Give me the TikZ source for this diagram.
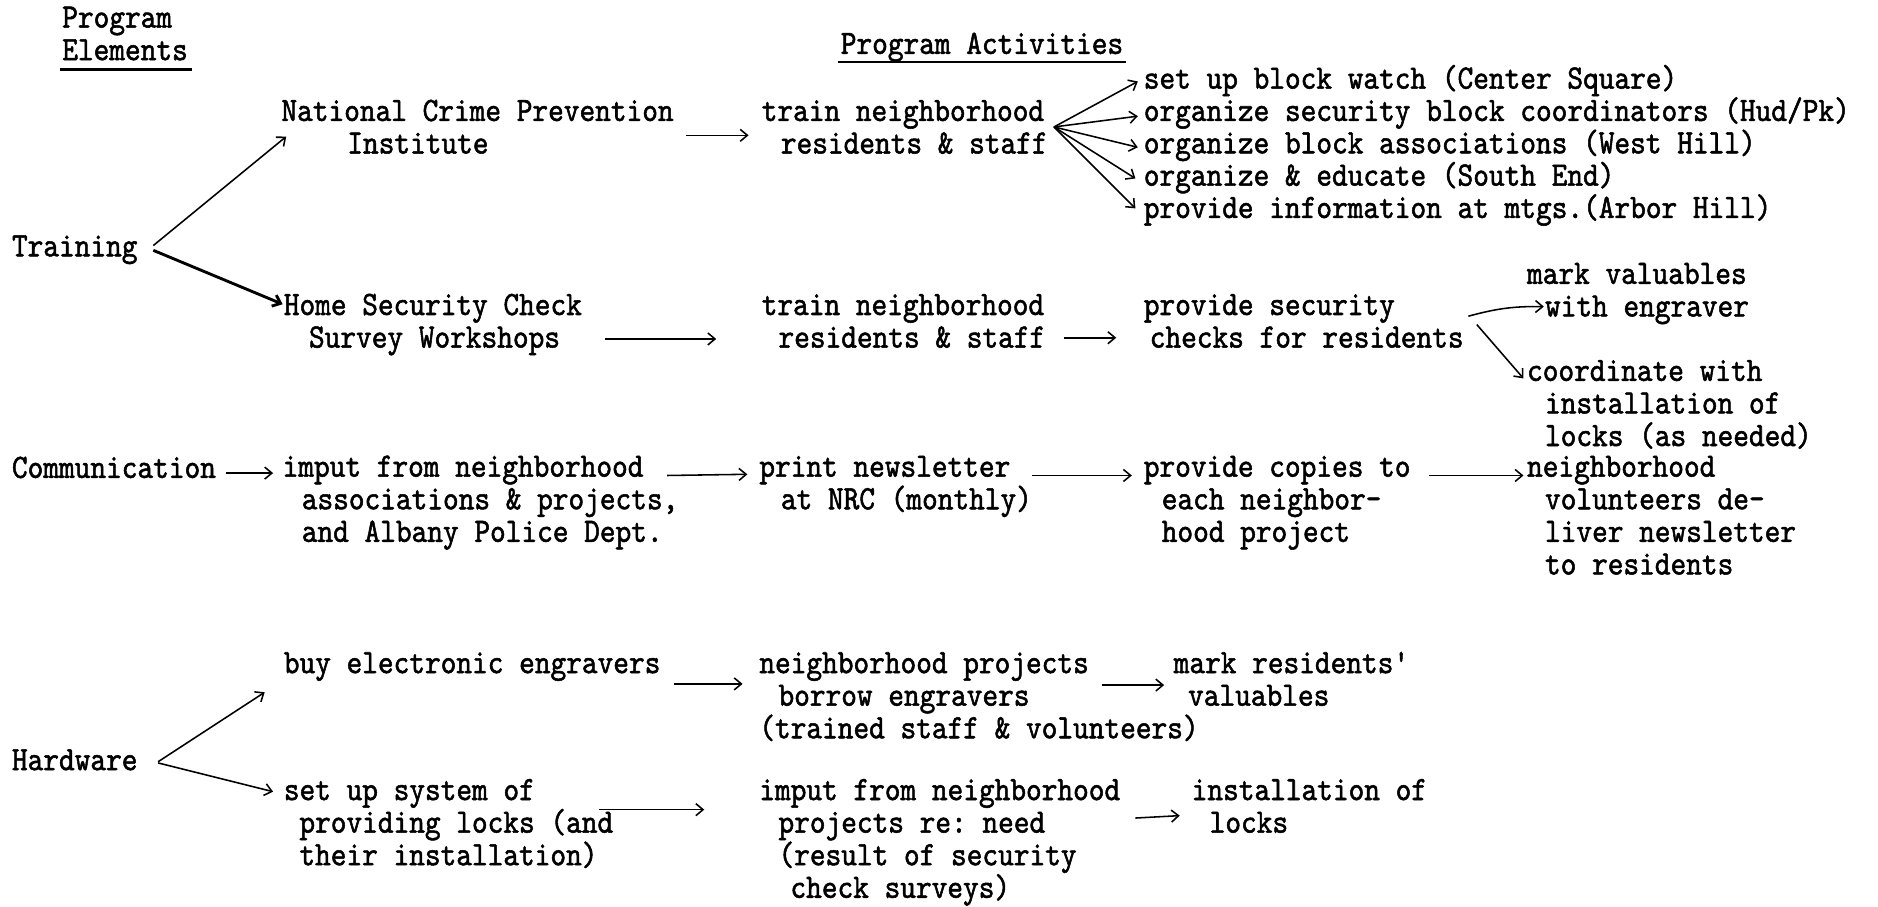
\documentclass[tikz,border=0pt]{standalone}
\usepackage{fontspec}
\setmonofont{lmmono10-regular.otf}[FakeStretch=0.8755,FakeBold=1.5]
\usetikzlibrary{arrows.meta}
% strut fixing the height of every first line, so that the top corner of a
% text block always lies 24pt above its first baseline
\newcommand\tstrut{\rule{0pt}{24pt}}
\newcommand\indt[1]{\hspace*{#1pt}}
\tikzset{
  txt/.style={anchor=north west, inner sep=0pt, outer sep=0pt, align=left,
    font=\ttfamily\fontsize{28.5}{27.2}\selectfont,
    execute at begin node={\lineskiplimit=-100pt\relax}, yshift=24pt},
  arr/.style={line width=1.3pt, -{Straight Barb[length=6pt,width=10pt]}},
  heavy/.style={arr, line width=2.4pt},
  uline/.style={line width=2pt},
}
\begin{document}
\begin{tikzpicture}[x=1pt,y=1pt]
\useasboundingbox (0,0) rectangle (1568,-757);
\fill[white] (0,0) rectangle (1568,-757);

% column headings
\node[txt] (hdrEl) at (52,-23) {\tstrut Program\\Elements};
\node[txt] (hdrAct) at (702,-45) {\tstrut Program Activities};
\draw[uline] ([shift={(-2,-59)}]hdrEl.north west) -- ([shift={(108,-59)}]hdrEl.north west);
\draw[uline] ([shift={(-2,-31)}]hdrAct.north west) -- ([shift={(238,-31)}]hdrAct.north west);

% training
\node[txt] (trg) at (10,-214) {\tstrut Training};
\node[txt] (nci) at (235,-101) {\tstrut National Crime Prevention\\\indt{55}Institute};
\node[txt] (trnA) at (636,-101) {\tstrut train neighborhood\\\indt{16}residents \& staff};
\node[txt] (bw1) at (955,-74) {\tstrut set up block watch (Center Square)};
\node[txt] (bw2) at (955,-101) {\tstrut organize security block coordinators (Hud/Pk)};
\node[txt] (bw3) at (955,-128) {\tstrut organize block associations (West Hill)};
\node[txt] (bw4) at (955,-155) {\tstrut organize \& educate (South End)};
\node[txt] (bw5) at (955,-182) {\tstrut provide information at mtgs.(Arbor Hill)};
\node[txt] (hsc) at (237,-263) {\tstrut Home Security Check\\\indt{21}Survey Workshops};
\node[txt] (trnB) at (636,-263) {\tstrut train neighborhood\\\indt{14}residents \& staff};
\node[txt] (psc) at (955,-263) {\tstrut provide security\\\indt{5}checks for residents};
\node[txt] (mkv) at (1275,-237) {\tstrut mark valuables\\\indt{15}with engraver};
\node[txt] (coo) at (1275,-318) {\tstrut coordinate with\\\indt{15}installation of\\\indt{15}locks (as needed)};

% communication
\node[txt] (com) at (10,-399) {\tstrut Communication};
\node[txt] (impA) at (236,-398) {\tstrut imput from neighborhood\\\indt{16}associations \& projects,\\\indt{16}and Albany Police Dept.};
\node[txt] (prn) at (634,-398) {\tstrut print newsletter\\\indt{18}at NRC (monthly)};
\node[txt] (cop) at (955,-398) {\tstrut provide copies to\\\indt{15}each neighbor-\\\indt{15}hood project};
\node[txt] (vol) at (1275,-398) {\tstrut neighborhood\\\indt{15}volunteers de-\\\indt{15}liver newsletter\\\indt{15}to residents};

% hardware
\node[txt] (buy) at (237,-562) {\tstrut buy electronic engravers};
\node[txt] (nbp) at (634,-562) {\tstrut neighborhood projects\\\indt{16}borrow engravers\\(trained staff \& volunteers)};
\node[txt] (mrv) at (980,-562) {\tstrut mark residents'\\\indt{12}valuables};
\node[txt] (hw) at (10,-643) {\tstrut Hardware};
\node[txt] (sys) at (237,-668) {\tstrut set up system of\\\indt{13}providing locks (and\\\indt{13}their installation)};
\node[txt] (impB) at (634,-668) {\tstrut imput from neighborhood\\\indt{16}projects re: need\\\indt{16}(result of security\\\indt{26}check surveys)};
\node[txt] (ins) at (995,-668) {\tstrut installation of\\\indt{15}locks};

% connectors: training
\draw[arr] ([shift={(118,-15)}]trg.north west) -- ([shift={(4,-37)}]nci.north west);
\draw[heavy] ([shift={(118,-19)}]trg.north west) -- ([shift={(-1,-15)}]hsc.north west);
\draw[arr] ([shift={(338,-36)}]nci.north west) -- ([shift={(-11,-36)}]trnA.north west);
\foreach \t/\dx/\dy in {bw1/-5/-18, bw2/-5/-20, bw3/-5/-19, bw4/-7/-18, bw5/-7/-16}
  \draw[arr] ([shift={(244,-29)}]trnA.north west) -- ([shift={(\dx,\dy)}]\t.north west);
\draw[arr] ([shift={(268,-44)}]hsc.north west) -- ([shift={(-38,-44)}]trnB.north west);
\draw[arr] ([shift={(252,-43)}]trnB.north west) -- ([shift={(-23,-43)}]psc.north west);
\draw[arr] ([shift={(271,-25)}]psc.north west) to[bend left=8] ([shift={(14,-43)}]mkv.north west);
\draw[arr] ([shift={(278,-32)}]psc.north west) -- ([shift={(-3,-22)}]coo.north west);

% connectors: communication
\draw[arr] ([shift={(179,-20)}]com.north west) -- ([shift={(-8,-21)}]impA.north west);
\draw[arr] ([shift={(321,-23)}]impA.north west) -- ([shift={(-10,-22)}]prn.north west);
\draw[arr] ([shift={(228,-23)}]prn.north west) -- ([shift={(-10,-23)}]cop.north west);
\draw[arr] ([shift={(238,-23)}]cop.north west) -- ([shift={(-3,-23)}]vol.north west);

% connectors: hardware
\draw[arr] ([shift={(122,-17)}]hw.north west) -- ([shift={(-16,-40)}]buy.north west);
\draw[arr] ([shift={(122,-18)}]hw.north west) -- ([shift={(-9,-17)}]sys.north west);
\draw[arr] ([shift={(326,-33)}]buy.north west) -- ([shift={(-14,-33)}]nbp.north west);
\draw[arr] ([shift={(286,-34)}]nbp.north west) -- ([shift={(-8,-34)}]mrv.north west);
\draw[arr] ([shift={(263,-32)}]sys.north west) -- ([shift={(-46,-32)}]impB.north west);
\draw[arr] ([shift={(314,-39)}]impB.north west) -- ([shift={(-10,-37)}]ins.north west);
\end{tikzpicture}
\end{document}
